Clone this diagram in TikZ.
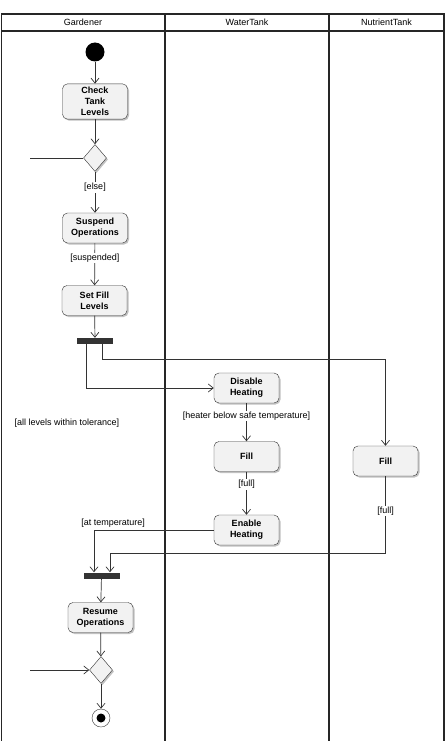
\documentclass[tikz,border=0pt]{standalone}
\usepackage{fontspec}
\setmainfont{Liberation Sans}
\usetikzlibrary{arrows.meta, positioning, shapes.geometric, shadows}

\begin{document}
\begin{tikzpicture}[x=1pt, y=-1pt,
    % Swimlane styles
    lane/.style={line width=1.2pt, draw=black!85},
    lanehead/.style={font=\fontsize{9}{11}\selectfont},
    % Node styles
    action/.style={rectangle, rounded corners=5pt, draw=black!80, fill=black!5,
                   minimum width=65pt, minimum height=30pt, align=center,
                   font=\fontsize{9}{11}\selectfont\bfseries,
                   drop shadow={shadow xshift=1.5pt, shadow yshift=-1.5pt, fill=black!35, opacity=0.7}},
    decision/.style={diamond, draw=black!80, fill=black!5, inner sep=0pt,
                     minimum width=23pt, minimum height=27pt,
                     drop shadow={shadow xshift=1.5pt, shadow yshift=-1.5pt, fill=black!35, opacity=0.7}},
    bar/.style={rectangle, fill=black!80, minimum width=36pt, minimum height=6pt, inner sep=0pt},
    startnode/.style={circle, fill=black, minimum size=19pt, inner sep=0pt},
    endnode/.style={circle, draw=black!80, fill=white, minimum size=18pt, inner sep=0pt,
                    path picture={\fill[black] (path picture bounding box.center) circle (4.5pt);}},
    guard/.style={font=\fontsize{9}{10}\selectfont, fill=white, inner sep=1pt},
    % Connector styles
    flow/.style={draw=black!80, line width=0.7pt, -{Straight Barb[length=5pt, width=8pt]}},
    plain/.style={draw=black!80, line width=0.7pt}
]
\useasboundingbox (0,0) rectangle (447,741);

% Swimlanes
\draw[lane] (1.5,741) |- (444,14) -- (444,741);
\draw[lane] (1.5,31) -- (444,31);
\draw[lane] (165,14) -- (165,741);
\draw[lane] (329,14) -- (329,741);

\node[lanehead] (gardener) at (83,22.5) {Gardener};
\node[lanehead] (watertank) at (247,22.5) {WaterTank};
\node[lanehead] (nutrienttank) at (386.5,22.5) {NutrientTank};

% Gardener lane
\node[startnode] (start) at (95,52) {};
\node[action] (check) at (95,101.5) {Check\\Tank\\Levels};
\node[decision] (dec1) at (95,158) {};
\node[action] (suspend) at (95,228) {Suspend\\Operations};
\node[action] (setfill) at (94.5,300.5) {Set Fill\\Levels};
\node[bar] (fork) at (95,341) {};
\node[guard] (tolerance) at (67,423) {[all levels within tolerance]};
\node[bar] (join) at (101.5,575.5) {};
\node[action] (resume) at (100.5,617.5) {Resume\\Operations};
\node[decision] (dec2) at (101,670) {};
\node[endnode] (done) at (101,718) {};

% WaterTank lane
\node[action] (disable) at (246.5,388) {Disable\\Heating};
\node[action] (wfill) at (246.5,456.5) {Fill};
\node[action] (enable) at (246.5,530) {Enable\\Heating};

% NutrientTank lane
\node[action] (nfill) at (385.5,461) {Fill};

% Loop ends
\coordinate (loopin) at (30,158);
\coordinate (loopback) at (30,670);

% Connections
\draw[flow] (start) -- (check);
\draw[flow] (check) -- (dec1);
\draw[plain] (loopin) -- (dec1.west);
\draw[flow] (dec1) -- node[pos=0.38, guard] {[else]} (suspend);
\draw[flow] (suspend) -- node[pos=0.35, guard] {[suspended]} (setfill);
\draw[flow] (setfill) -- (fork);

% Fork
\draw[flow] ([xshift=-9pt]fork.south) |- (disable.west);
\draw[flow] ([xshift=7pt]fork.south) -- ++(0,15) -| (nfill.north);

% WaterTank chain
\draw[flow] (disable) -- node[pos=0.33, guard] {[heater below safe temperature]} (wfill);
\draw[flow] (wfill) -- node[pos=0.3, guard] {[full]} (enable);

% Join
\draw[flow] (enable.west) -| node[pos=0.42, above=1pt, font=\fontsize{9}{10}\selectfont, inner sep=1pt] {[at temperature]}
    ([xshift=-7.5pt]join.north);
\draw[flow] (nfill.south) -- node[pos=0.45, guard] {[full]} ++(0,77) -| ([xshift=8.5pt]join.north);

% Finish
\draw[flow] (join) -- (resume);
\draw[flow] (resume) -- (dec2);
\draw[flow] (loopback) -- (dec2.west);
\draw[flow] (dec2) -- (done);

\end{tikzpicture}
\end{document}
